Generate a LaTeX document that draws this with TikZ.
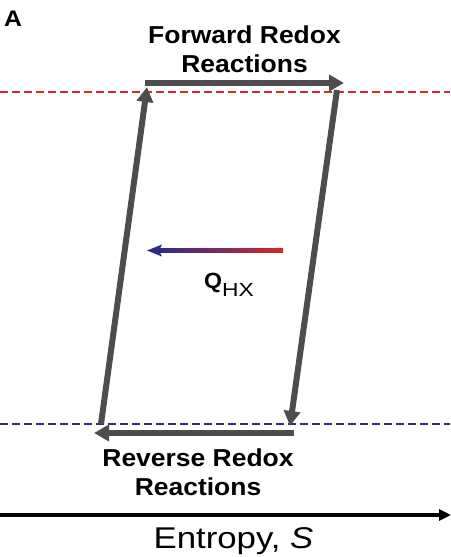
\documentclass[tikz,border=0pt]{standalone}
\usepackage{fontspec}
\setmainfont{Liberation Sans}
\usetikzlibrary{arrows.meta}
\definecolor{hotred}{HTML}{D42A2A}
\definecolor{coldblue}{HTML}{2E2A8A}
\definecolor{cyclegray}{HTML}{4D4D4D}
\tikzset{
  cyc/.style={draw=cyclegray, line width=6pt, -{Triangle[length=15pt,width=16pt]}},
  iso/.style={line width=1.6pt, dash pattern=on 8pt off 4pt},
  lbl/.style={anchor=base, inner sep=0pt}
}
\newcommand{\twolines}[2]{\scalebox{1.08}[1]{\bfseries\fontsize{24.5}{29}\selectfont\begin{tabular}[t]{@{}c@{}}#1\\#2\end{tabular}}}
\begin{document}
\begin{tikzpicture}[x=1pt,y=-1pt]
\useasboundingbox (0,0) rectangle (450,557);
% isotherms
\coordinate (rl) at (0,92); \coordinate (rr) at (450,92);
\coordinate (bl) at (0,424); \coordinate (br) at (450,424);
\draw[iso, hotred] (rl) -- (rr);
\draw[iso, coldblue] (bl) -- (br);
% cycle corners
\coordinate (c1) at (101,424);
\coordinate (c2) at (147,87);
\coordinate (c3) at (148,83);
\coordinate (c4) at (344,83);
\coordinate (c5) at (337,90);
\coordinate (c6) at (290,426);
\coordinate (c7) at (291,433);
\coordinate (c8) at (94,433);
\draw[cyc] (c1) -- (c2);
\draw[cyc, line cap=rect] (c3) -- (c4);
\draw[cyc] (c5) -- (c6);
\draw[cyc, line cap=rect] (c7) -- (c8);
% labels
\node[lbl] (A) at (13,26) {\scalebox{1.1}[1]{\bfseries\fontsize{22.5}{26}\selectfont A}};
\node[lbl] (fwd) at (244.5,43) {\twolines{Forward Redox}{Reactions}};
\node[lbl] (rev) at (198,466.5) {\twolines{Reverse Redox}{Reactions}};
% heat exchange arrow
\coordinate (qr) at (283,250.5);
\coordinate (ql) at (147,250.5);
\shade[left color=coldblue, right color=hotred] (158,248.5) rectangle (283,252.5);
\fill[coldblue] (ql) -- ++(15,-6) -- ++(-3,6) -- ++(3,6) -- cycle;
\node[inner sep=0pt, anchor=base west] (Q) at (204,288) {\scalebox{1.05}[1]{\bfseries\fontsize{22}{26}\selectfont Q}\raisebox{-8.5pt}{\scalebox{1.2}[1]{\fontsize{19}{22}\selectfont HX}}};
% entropy axis
\coordinate (ax0) at (0,515);
\coordinate (ax1) at (451,515);
\draw[line width=3.5pt, -{Triangle[length=12pt,width=11pt]}] (ax0) -- (ax1);
\node[lbl] (ent) at (233.5,548) {\scalebox{1.16}[1]{\fontsize{30}{34}\selectfont Entropy, \textit{S}}};
\end{tikzpicture}
\end{document}
